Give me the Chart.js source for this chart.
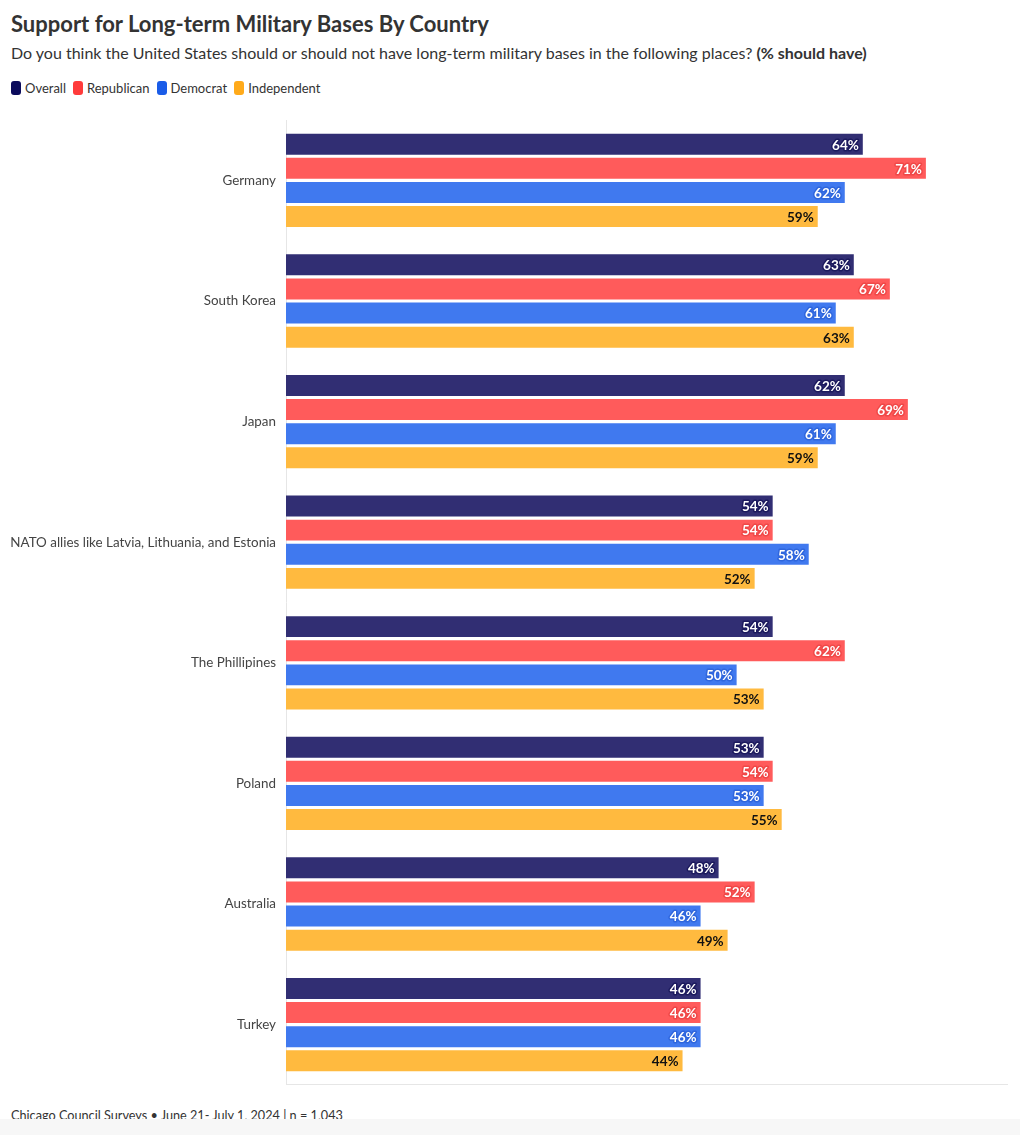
<!DOCTYPE html>
<html>
<head>
<meta charset="utf-8">
<script src="https://cdn.jsdelivr.net/npm/chart.js@4"></script>
<style>
  html, body { margin:0; padding:0; background:#fff; width:1020px; height:1135px; overflow:hidden; font-family: Lato, "Noto Sans", sans-serif; color:#333; }
  #title { position:absolute; left:11px; top:10px; font-size:22px; font-weight:700; color:#333; white-space:nowrap; }
  #sub { position:absolute; left:11px; top:43px; font-size:16px; color:#333; white-space:nowrap; }
  #legend { position:absolute; left:11px; top:80px; font-size:13px; color:#333; white-space:nowrap; display:flex; align-items:center; }
  #legend span.item { display:inline-flex; align-items:center; margin-right:7px; }
  #legend span.sw { display:inline-block; width:10px; height:14px; border-radius:3px; margin-right:4px; }
  #chartwrap { position:absolute; left:0; top:102px; width:1020px; height:1001px; }
  #footer { position:absolute; left:11px; top:1107px; font-size:12.7px; color:#333; white-space:nowrap; }
  #band { position:absolute; left:0; top:1119px; width:1020px; height:16px; background:#f7f7f7; }
</style>
</head>
<body>
<div id="title">Support for Long-term Military Bases By Country</div>
<div id="sub">Do you think the United States should or should not have long-term military bases in the following places? <b>(% should have)</b></div>
<div id="legend"></div>
<div id="chartwrap"><canvas id="c"></canvas></div>
<div id="footer">Chicago Council Surveys • June 21- July 1, 2024 | n = 1,043</div>
<div id="band"></div>
<script>
const categories = ["Germany","South Korea","Japan","NATO allies like Latvia, Lithuania, and Estonia","The Phillipines","Poland","Australia","Turkey"];
const seriesNames = ["Overall","Republican","Democrat","Independent"];
const overall     = [64,63,62,54,54,53,48,46];
const republican  = [71,67,69,54,62,54,52,46];
const democrat    = [62,61,61,58,50,53,46,46];
const independent = [59,63,59,52,53,55,49,44];
const barColors    = ["#312e73","#ff5b5b","#4079ef","#ffba3f"];
const legendColors = ["#0b0b5c","#ff3b3b","#1a5ce8","#ffaa1a"];
const labelColors  = ["#ffffff","#ffffff","#ffffff","#111111"];
const haloColors   = ["#1c1a5e","#f04848","#2f66dd",null];

const leg = document.getElementById('legend');
seriesNames.forEach((n,i)=>{
  const s = document.createElement('span'); s.className='item';
  s.innerHTML = '<span class="sw" style="background:'+legendColors[i]+'"></span>'+n;
  leg.appendChild(s);
});

const values = [overall, republican, democrat, independent];
const datasets = seriesNames.map((n,i)=>({
  label:n, data:values[i], backgroundColor:barColors[i], borderWidth:0,
  categoryPercentage:0.8, barPercentage:0.87
}));

const labelPlugin = {
  id:'barLabels',
  afterDatasetsDraw(chart){
    const ctx = chart.ctx;
    ctx.save();
    ctx.font = '700 13.5px Lato, "Noto Sans", sans-serif';
    ctx.textAlign = 'right';
    ctx.textBaseline = 'middle';
    chart.data.datasets.forEach((ds,i)=>{
      const meta = chart.getDatasetMeta(i);
      meta.data.forEach((bar,j)=>{
        const txt = ds.data[j] + '%';
        const x = bar.x - 4, y = bar.y + 1;
        if (haloColors[i]) {
          ctx.lineWidth = 3; ctx.strokeStyle = haloColors[i]; ctx.lineJoin='round';
          ctx.strokeText(txt, x, y);
        }
        ctx.fillStyle = labelColors[i];
        ctx.fillText(txt, x, y);
      });
    });
    ctx.restore();
  }
};

new Chart(document.getElementById('c'), {
  type:'bar',
  data:{ labels:categories, datasets },
  options:{
    indexAxis:'y',
    responsive:true, maintainAspectRatio:false, animation:false,
    layout:{ padding:{ top:2, bottom:2, right:13, left:0 } },
    plugins:{ legend:{display:false}, tooltip:{enabled:false} },
    scales:{
      x:{ min:0, max:80, display:true,
          ticks:{display:false}, grid:{display:false, drawTicks:false},
          border:{display:true, color:'#e6e6e6', width:1},
          afterFit(s){ s.height = 0; } },
      y:{ ticks:{ color:'#444', font:{ family:'Lato, "Noto Sans", sans-serif', size:13.4 }, padding:10 },
          grid:{display:false, drawTicks:false},
          border:{display:true, color:'#e6e6e6', width:1},
          afterFit(s){ s.width = 286; } }
    }
  },
  plugins:[labelPlugin]
});
</script>
</body>
</html>
